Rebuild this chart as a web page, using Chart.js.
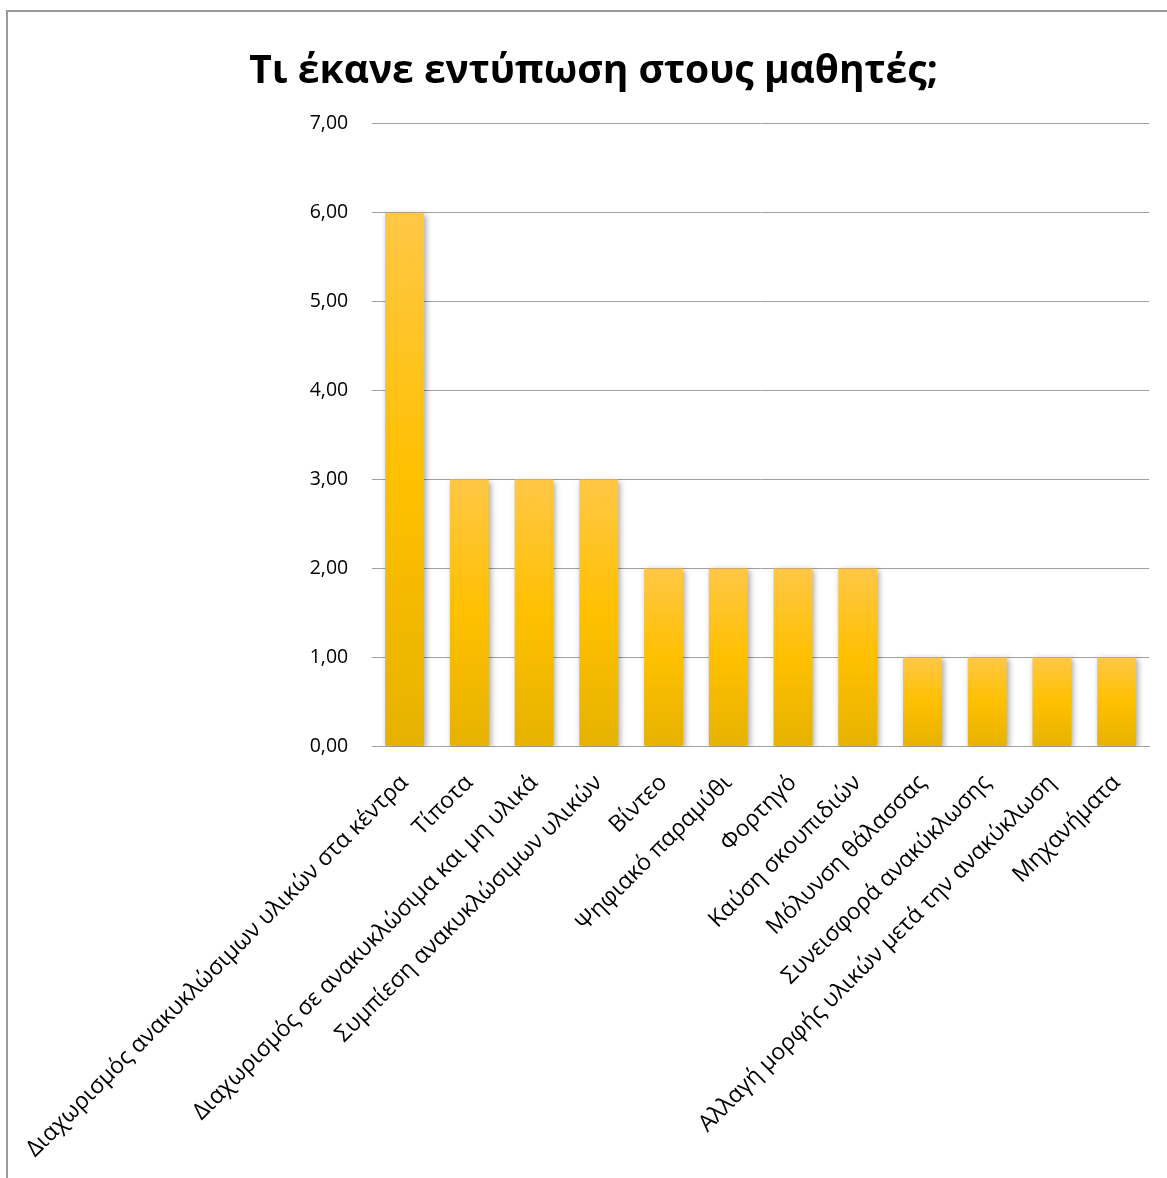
<!DOCTYPE html>
<html>
<head>
<meta charset="utf-8">
<script src="https://cdn.jsdelivr.net/npm/chart.js@4/dist/chart.umd.min.js"></script>
<style>
  html, body { margin: 0; padding: 0; background: #fff; }
  #wrap { position: relative; width: 1167px; height: 1178px; }
</style>
</head>
<body>
<div id="wrap"><canvas id="chart"></canvas></div>
<script>
const categories = [
  "Διαχωρισμός ανακυκλώσιμων υλικών στα κέντρα",
  "Τίποτα",
  "Διαχωρισμός σε ανακυκλώσιμα και μη υλικά",
  "Συμπίεση ανακυκλώσιμων υλικών",
  "Βίντεο",
  "Ψηφιακό παραμύθι",
  "Φορτηγό",
  "Καύση σκουπιδιών",
  "Μόλυνση θάλασσας",
  "Συνεισφορά ανακύκλωσης",
  "Αλλαγή μορφής υλικών μετά την ανακύκλωση",
  "Μηχανήματα"
];
const counts = [6, 3, 3, 3, 2, 2, 2, 2, 1, 1, 1, 1];
const yMin = 0, yMax = 7, yStep = 1;
const chartTitle = "Τι έκανε εντύπωση στους μαθητές;";

const fontFam = "'Open Sans', 'DejaVu Sans', sans-serif";

// gold gradient per bar, light at top, darker at the base
function barFill(ctx) {
  const chart = ctx.chart;
  const y = chart.scales.y;
  if (!y || !chart.chartArea || ctx.parsed === undefined) return '#FFC000';
  const top = y.getPixelForValue(ctx.parsed.y);
  const base = y.getPixelForValue(0);
  if (!isFinite(top) || !isFinite(base) || top === base) return '#FFC000';
  const g = chart.ctx.createLinearGradient(0, top, 0, base);
  g.addColorStop(0, '#FFC746');
  g.addColorStop(0.5, '#FFC000');
  g.addColorStop(1, '#E6B200');
  return g;
}

// thin grey border of the chart box
const frame = {
  id: 'frame',
  afterDraw(chart) {
    const c = chart.ctx;
    c.save();
    c.strokeStyle = '#9a9a9a';
    c.lineWidth = 2;
    c.beginPath();
    c.moveTo(7, chart.height + 5);
    c.lineTo(7, 11);
    c.lineTo(chart.width + 5, 11);
    c.stroke();
    c.restore();
  }
};

// soft drop shadow under the bars
const barShadow = {
  id: 'barShadow',
  beforeDatasetDraw(chart) {
    const c = chart.ctx;
    c.save();
    c.shadowColor = 'rgba(0,0,0,0.35)';
    c.shadowBlur = 6;
    c.shadowOffsetX = 2;
    c.shadowOffsetY = 2;
  },
  afterDatasetDraw(chart) {
    chart.ctx.restore();
  }
};

new Chart(document.getElementById('chart'), {
  type: 'bar',
  data: {
    labels: categories,
    datasets: [{
      data: counts,
      backgroundColor: barFill,
      borderWidth: 0,
      categoryPercentage: 0.6,
      barPercentage: 1.0
    }]
  },
  options: {
    responsive: true,
    maintainAspectRatio: false,
    animation: false,
    layout: { padding: { top: 38, right: 18, bottom: 0, left: 38 } },
    plugins: {
      legend: { display: false },
      tooltip: { enabled: false },
      title: {
        display: true,
        text: chartTitle,
        color: '#000',
        font: { family: fontFam, size: 39, weight: 'bold' },
        padding: { top: 10, bottom: 29 }
      }
    },
    scales: {
      x: {
        grid: { display: false },
        border: { display: true, color: '#a0a0a0', width: 1 },
        ticks: {
          color: '#000',
          font: { family: fontFam, size: 23 },
          maxRotation: 45,
          minRotation: 45,
          autoSkip: false,
          padding: 15
        }
      },
      y: {
        min: yMin,
        max: yMax,
        grid: { color: '#a0a0a0', drawTicks: false },
        border: { display: false },
        afterFit: s => { s.width = 331; },
        ticks: {
          stepSize: yStep,
          color: '#000',
          padding: 24,
          font: { family: fontFam, size: 19.5 },
          callback: v => v.toFixed(2).replace('.', ',')
        }
      }
    }
  },
  plugins: [frame, barShadow]
});
</script>
</body>
</html>
